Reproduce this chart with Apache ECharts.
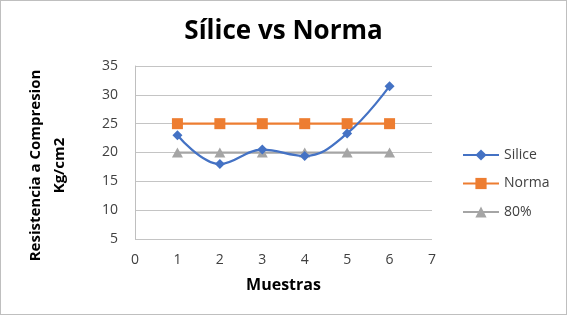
<!DOCTYPE html>
<html>
<head>
<meta charset="utf-8">
<script src="https://cdn.jsdelivr.net/npm/echarts@6/dist/echarts.min.js"></script>
<style>
  html, body { margin: 0; padding: 0; background: #fff; }
  #main { width: 565px; height: 313px; border: 1px solid #bfbfbf; }
</style>
</head>
<body>
<div id="main"></div>
<script>
// data
var muestras = [1, 2, 3, 4, 5, 6];
var silice = [23.0, 18.0, 20.5, 19.4, 23.3, 31.5];
var norma = [25, 25, 25, 25, 25, 25];
var ochenta = [20, 20, 20, 20, 20, 20];

function pairs(xs, ys) {
  return xs.map(function (x, i) { return [x, ys[i]]; });
}

var font = "'Open Sans', 'Noto Sans', sans-serif";
var chart = echarts.init(document.getElementById('main'));

var option = {
  animation: false,
  title: {
    text: 'Sílice vs Norma',
    left: 'center',
    top: 13,
    padding: [5, 5, 5, 13],
    textStyle: { fontFamily: font, fontSize: 26, fontWeight: 'bold', color: '#000' }
  },
  grid: { left: 134, right: 134, top: 65, bottom: 75 },
  legend: {
    orient: 'vertical',
    left: 456,
    top: 142,
    itemGap: 14.5,
    itemWidth: 36,
    itemHeight: 14,
    textStyle: { fontFamily: font, fontSize: 14, color: '#404040', lineHeight: 14 },
    data: ['Silice', 'Norma', '80%']
  },
  xAxis: {
    type: 'value',
    min: 0,
    max: 7,
    interval: 1,
    name: 'Muestras',
    nameLocation: 'middle',
    nameGap: 38,
    nameTextStyle: { fontFamily: font, fontSize: 16, fontWeight: 'bold', color: '#000' },
    axisLine: { show: false },
    axisTick: { show: false },
    splitLine: { show: false },
    axisLabel: { fontFamily: font, fontSize: 14, color: '#404040', margin: 14 }
  },
  yAxis: {
    type: 'value',
    min: 5,
    max: 35,
    interval: 5,
    name: 'Resistencia a Compresion\nKg/cm2',
    nameLocation: 'middle',
    nameGap: 63,
    nameTextStyle: {
      fontFamily: font, fontSize: 15, fontWeight: 'bold', color: '#000',
      lineHeight: 24.5, padding: [0, 26, 0, 0]
    },
    axisLine: { show: true, lineStyle: { color: '#bfbfbf' } },
    axisTick: { show: false },
    splitLine: { lineStyle: { color: '#c4c4c4' } },
    axisLabel: { fontFamily: font, fontSize: 14, color: '#404040', margin: 17 }
  },
  series: [
    {
      name: 'Silice',
      type: 'line',
      smooth: 0.4,
      data: pairs(muestras, silice),
      symbol: 'diamond',
      symbolSize: 10,
      itemStyle: { color: '#4472c4' },
      lineStyle: { width: 2.25, color: '#4472c4' },
      z: 4
    },
    {
      name: 'Norma',
      type: 'line',
      data: pairs(muestras, norma),
      symbol: 'rect',
      symbolSize: 11,
      itemStyle: { color: '#ed7d31' },
      lineStyle: { width: 2.25, color: '#ed7d31' },
      z: 3
    },
    {
      name: '80%',
      type: 'line',
      data: pairs(muestras, ochenta),
      symbol: 'triangle',
      symbolSize: [11, 10],
      itemStyle: { color: '#a5a5a5' },
      lineStyle: { width: 2.25, color: '#a5a5a5' },
      z: 2
    }
  ]
};

chart.setOption(option);
</script>
</body>
</html>
